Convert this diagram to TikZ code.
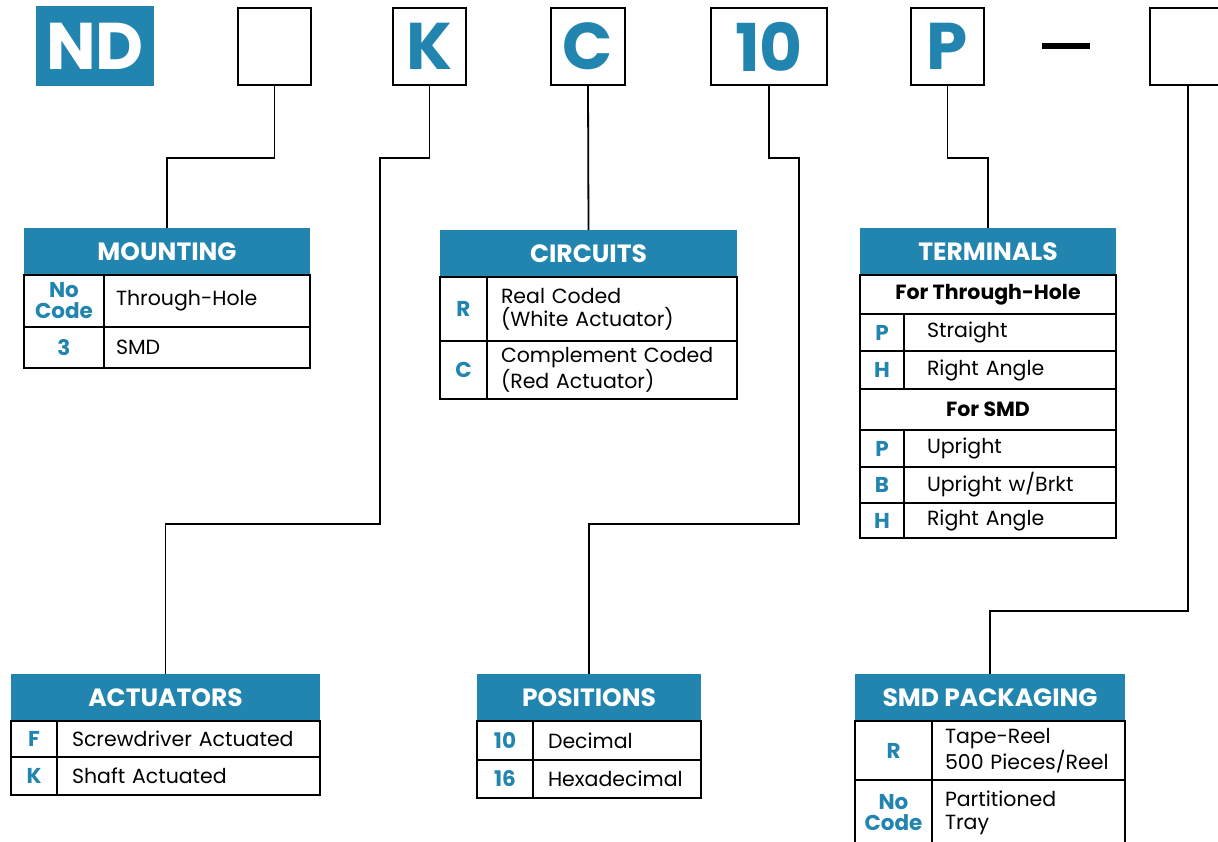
\documentclass[tikz,border=0pt]{standalone}
\usepackage{fontspec}
\setmainfont{Poppins}
\usetikzlibrary{positioning}
\definecolor{ndblue}{HTML}{2185AF}

\tikzset{
  hdr/.style={fill=ndblue, text=white, font=\fontsize{25}{26}\selectfont\bfseries, anchor=north west, inner sep=0pt, outer sep=0pt, minimum height=47pt},
  cell/.style={draw, line width=1.3pt, anchor=north west, inner sep=0pt, outer sep=0pt, font=\fontsize{20.5}{23}\selectfont},
  codecell/.style={cell, text=ndblue, font=\fontsize{21.5}{21}\selectfont\bfseries, align=center},
  desc/.style={cell, align=left, inner xsep=12pt},
  subhdr/.style={cell, font=\fontsize{20.5}{22}\selectfont\bfseries},
  frame/.style={line width=2.3pt},
  pnbox/.style={draw, line width=2.3pt, inner sep=0pt, minimum height=77pt, text=ndblue, font=\fontsize{66}{66}\selectfont\bfseries},
  wire/.style={line width=1.8pt}
}

\begin{document}
\begin{tikzpicture}[x=1pt, y=-1pt]
\clip (0,0) rectangle (1218,841);

\node[fill=ndblue, text=white, inner sep=0pt, minimum width=118pt, minimum height=80pt, font=\fontsize{66}{66}\selectfont\bfseries] (nd) at (95,46) {ND};
\node[pnbox, minimum width=73pt] (bxmount) at (274.5,46.5) {};
\node[pnbox, minimum width=73pt] (bxact) at (429.5,46.5) {K};
\node[pnbox, minimum width=74pt] (bxcirc) at (588,46.5) {C};
\node[pnbox, minimum width=116pt] (bxpos) at (769,46.5) {10};
\node[pnbox, minimum width=73pt] (bxterm) at (947.5,46.5) {P};
\node[fill=black, inner sep=0pt, minimum width=48pt, minimum height=6pt] (dash) at (1066,46) {};
\node[pnbox, minimum width=76pt] (bxpack) at (1188,46.5) {};

\node[hdr, minimum width=286pt] (mounting) at (24,228) {MOUNTING};
\node[codecell, minimum width=80pt, minimum height=52pt] (mcode1) at (mounting.south west) {No\\Code};
\node[desc, text width=182pt, minimum height=52pt] (mdesc1) at (mcode1.north east) {Through-Hole};
\node[codecell, minimum width=80pt, minimum height=41pt] (mcode2) at (mcode1.south west) {3};
\node[desc, text width=182pt, minimum height=41pt] (mdesc2) at (mcode2.north east) {SMD};
\draw[frame] (mounting.south west) rectangle (mdesc2.south east);

\node[hdr, minimum width=297pt] (circuits) at (440,230) {CIRCUITS};
\node[codecell, minimum width=47pt, minimum height=64pt] (ccode1) at (circuits.south west) {R};
\node[desc, inner xsep=14pt, text width=222pt, minimum height=64pt] (cdesc1) at (ccode1.north east) {Real Coded\\(White Actuator)};
\node[codecell, minimum width=47pt, minimum height=58pt] (ccode2) at (ccode1.south west) {C};
\node[desc, inner xsep=14pt, text width=222pt, minimum height=58pt] (cdesc2) at (ccode2.north east) {Complement Coded\\(Red Actuator)};
\draw[frame] (circuits.south west) rectangle (cdesc2.south east);

\node[hdr, minimum width=256pt] (terminals) at (860,228) {TERMINALS};
\node[subhdr, minimum width=256pt, minimum height=39pt] (tsub1) at (terminals.south west) {For Through-Hole};
\node[codecell, minimum width=44pt, minimum height=37pt] (tcode1) at (tsub1.south west) {P};
\node[desc, inner xsep=23pt, text width=166pt, minimum height=37pt] (tdesc1) at (tcode1.north east) {Straight};
\node[codecell, minimum width=44pt, minimum height=38pt] (tcode2) at (tcode1.south west) {H};
\node[desc, inner xsep=23pt, text width=166pt, minimum height=38pt] (tdesc2) at (tcode2.north east) {Right Angle};
\node[subhdr, minimum width=256pt, minimum height=41pt] (tsub2) at (tcode2.south west) {For SMD};
\node[codecell, minimum width=44pt, minimum height=37pt] (tcode3) at (tsub2.south west) {P};
\node[desc, inner xsep=23pt, text width=166pt, minimum height=37pt] (tdesc3) at (tcode3.north east) {Upright};
\node[codecell, minimum width=44pt, minimum height=36pt] (tcode4) at (tcode3.south west) {B};
\node[desc, inner xsep=23pt, text width=166pt, minimum height=36pt] (tdesc4) at (tcode4.north east) {Upright w/Brkt};
\node[codecell, minimum width=44pt, minimum height=35pt] (tcode5) at (tcode4.south west) {H};
\node[desc, inner xsep=23pt, text width=166pt, minimum height=35pt] (tdesc5) at (tcode5.north east) {Right Angle};
\draw[frame] (terminals.south west) rectangle (tdesc5.south east);

\node[hdr, minimum width=309pt] (actuators) at (11,674) {ACTUATORS};
\node[codecell, minimum width=46pt, minimum height=36pt] (acode1) at (actuators.south west) {F};
\node[desc, inner xsep=15pt, text width=233pt, minimum height=36pt] (adesc1) at (acode1.north east) {Screwdriver Actuated};
\node[codecell, minimum width=46pt, minimum height=38pt] (acode2) at (acode1.south west) {K};
\node[desc, inner xsep=15pt, text width=233pt, minimum height=38pt] (adesc2) at (acode2.north east) {Shaft Actuated};
\draw[frame] (actuators.south west) rectangle (adesc2.south east);

\node[hdr, minimum width=224pt] (positions) at (477,674) {POSITIONS};
\node[codecell, minimum width=56pt, minimum height=39pt] (pcode1) at (positions.south west) {10};
\node[desc, inner xsep=15pt, text width=138pt, minimum height=39pt] (pdesc1) at (pcode1.north east) {Decimal};
\node[codecell, minimum width=56pt, minimum height=38pt] (pcode2) at (pcode1.south west) {16};
\node[desc, inner xsep=15pt, text width=138pt, minimum height=38pt] (pdesc2) at (pcode2.north east) {Hexadecimal};
\draw[frame] (positions.south west) rectangle (pdesc2.south east);

\node[hdr, minimum width=270pt] (packaging) at (855,674) {SMD PACKAGING};
\node[codecell, minimum width=77pt, minimum height=59pt] (kcode1) at (packaging.south west) {R};
\node[desc, inner xsep=13pt, text width=167pt, minimum height=59pt] (kdesc1) at (kcode1.north east) {Tape-Reel\\500 Pieces/Reel};
\node[codecell, minimum width=77pt, minimum height=66pt] (kcode2) at (kcode1.south west) {No\\Code};
\node[desc, inner xsep=13pt, text width=167pt, minimum height=66pt] (kdesc2) at (kcode2.north east) {Partitioned\\Tray};
\draw[frame] (packaging.south west) rectangle (kdesc2.south east);

\coordinate (actbend) at (380,524);
\coordinate (posbend) at (799,524);
\draw[wire] (bxmount.south) -- ++(0,72) -| (mounting.north);
\draw[wire] (bxact.south) -- ++(0,72) -| (actbend) -| (actuators.north);
\draw[wire] (bxcirc.south) -- (circuits.north);
\draw[wire] (bxpos.south) -- ++(0,72) -| (posbend) -| (positions.north);
\draw[wire] (bxterm.south) -- ++(0,72) -| (terminals.north);
\draw[wire] (bxpack.south) -- ++(0,525) -| (packaging.north);
\end{tikzpicture}
\end{document}
